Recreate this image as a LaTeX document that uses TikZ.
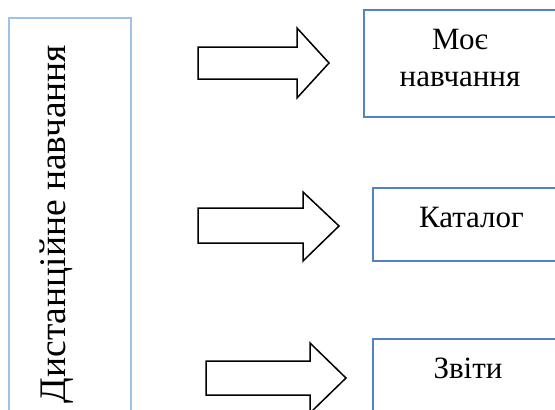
\documentclass[tikz,border=0pt]{standalone}
\usepackage{fontspec}
\setmainfont{Liberation Serif}
\definecolor{lbox}{HTML}{9DC3E6}
\definecolor{rbox}{HTML}{5383C6}
\begin{document}
\begin{tikzpicture}[x=1pt,y=-1pt,
  leftframe/.style={draw=lbox,line width=1.4pt},
  rightframe/.style={draw=rbox,line width=1.3pt},
  blockarrow/.style={draw=black,line width=1.5pt,fill=white,line join=miter},
  boxtext/.style={font=\fontsize{31}{37}\selectfont,inner sep=0pt,anchor=base,align=center},
  vtext/.style={font=\fontsize{37.5}{45}\selectfont,inner sep=0pt,anchor=base,rotate=90}]
\useasboundingbox (0,0) rectangle (555,410);
\clip (0,0) rectangle (555,410);
% left frame
\draw[leftframe] (9,18) rectangle (131,430);
\node[vtext] (main) at (65,224) {Дистанційне навчання};
% right frames
\draw[rightframe] (364,10) rectangle (570,117);
\node[boxtext] (t1a) at (460,49) {Моє};
\node[boxtext] (t1b) at (460,86) {навчання};
\draw[rightframe] (373,188) rectangle (580,261);
\node[boxtext] (t2) at (471.5,227) {Каталог};
\draw[rightframe] (373,339) rectangle (580,430);
\node[boxtext] (t3) at (468,378) {Звіти};
% block arrows
\draw[blockarrow] (198,47) -- (297,47) -- (297,28) -- (329,63) -- (297,98) -- (297,79) -- (198,79) -- cycle;
\draw[blockarrow] (198,208) -- (303,208) -- (303,192) -- (339,226) -- (303,261) -- (303,243) -- (198,243) -- cycle;
\draw[blockarrow] (206,361) -- (310,361) -- (310,343) -- (346,378) -- (310,413) -- (310,395) -- (206,395) -- cycle;
\end{tikzpicture}
\end{document}
